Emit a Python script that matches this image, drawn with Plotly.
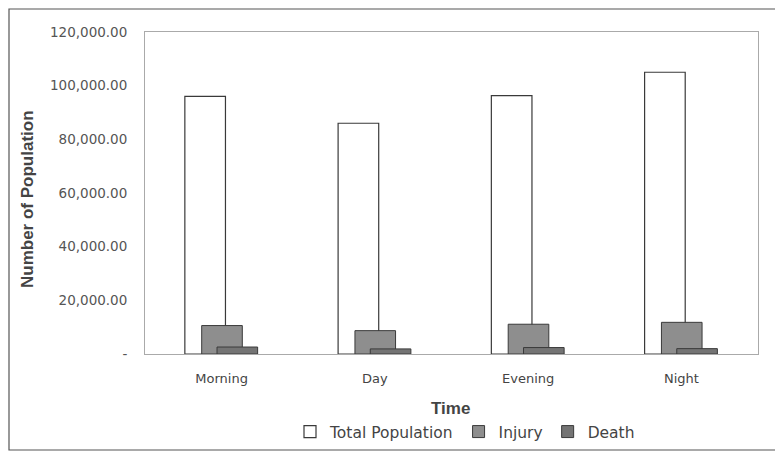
import plotly.graph_objects as go

categories = ["Morning", "Day", "Evening", "Night"]
total_population = [96000, 86000, 96300, 105000]
injury = [10600, 8700, 11100, 11800]
death = [2600, 1900, 2400, 2000]
y_tick_values = [0, 20000, 40000, 60000, 80000, 100000, 120000]
y_tick_labels = ["-", "20,000.00", "40,000.00", "60,000.00", "80,000.00", "100,000.00", "120,000.00"]

tick_font = "DejaVu Sans, Liberation Sans, sans-serif"
title_font = "Liberation Sans, Arial, sans-serif"
edge = "#3a3a3a"

# page body adds an 8px offset; figure sized to fill the rest of the 783x453 window
W, H = 775, 445
L, R, T, B = 137, 25, 24, 99
pw, ph = W - L - R, H - T - B

fig = go.Figure()
fig.add_bar(x=categories, y=total_population, name="Total Population",
            marker=dict(color="white", line=dict(color=edge, width=1.2)),
            width=0.265, offset=-0.24)
fig.add_bar(x=categories, y=injury, name="Injury",
            marker=dict(color="#8e8e8e", line=dict(color=edge, width=1)),
            width=0.265, offset=-0.13)
fig.add_bar(x=categories, y=death, name="Death",
            marker=dict(color="#747474", line=dict(color=edge, width=1)),
            width=0.265, offset=-0.03)

fig.update_layout(
    width=W, height=H,
    margin=dict(l=L, r=R, t=T, b=B, autoexpand=False),
    barmode="overlay",
    paper_bgcolor="white", plot_bgcolor="white",
    font=dict(family=tick_font, color="#444444", size=13),
    showlegend=True,
    legend=dict(orientation="h", x=(457 - L) / pw, xanchor="center", y=(ph + T - 424) / ph,
                yanchor="middle",
                font=dict(size=15.5, color="#444444", family=tick_font), itemwidth=30,
                bgcolor="rgba(0,0,0,0)", traceorder="normal"),
    xaxis=dict(tickfont=dict(size=13, color="#444444"), showline=True, linecolor="#aaaaaa",
               mirror=True, ticks="", showgrid=False, automargin=False,
               ticklabelstandoff=12),
    yaxis=dict(range=[0, 120000], tickvals=y_tick_values, ticktext=y_tick_labels,
               tickfont=dict(size=13.5, color="#555555"), showline=True, linecolor="#aaaaaa",
               mirror=True, showgrid=False, zeroline=False, ticks="", automargin=False,
               ticklabelstandoff=14),
    annotations=[
        dict(text="<b>Time</b>", xref="paper", yref="paper", x=(442 - L) / pw, y=(ph + T - 400) / ph,
             xanchor="center", yanchor="middle", showarrow=False,
             font=dict(family=title_font, size=17, color="#444444")),
        dict(text="<b>Number of Population</b>", xref="paper", yref="paper", x=(20 - L) / pw,
             y=(ph + T - 191) / ph,
             xanchor="center", yanchor="middle", showarrow=False, textangle=-90,
             font=dict(family=title_font, size=17, color="#444444")),
    ],
    shapes=[dict(type="rect", xref="paper", yref="paper",
                 x0=(1 - L) / pw, x1=(800 - L) / pw,
                 y0=(ph + T - 442) / ph, y1=(ph + T - 1) / ph,
                 line=dict(color="#555555", width=1.2))],
)
fig.write_html("out.html")
